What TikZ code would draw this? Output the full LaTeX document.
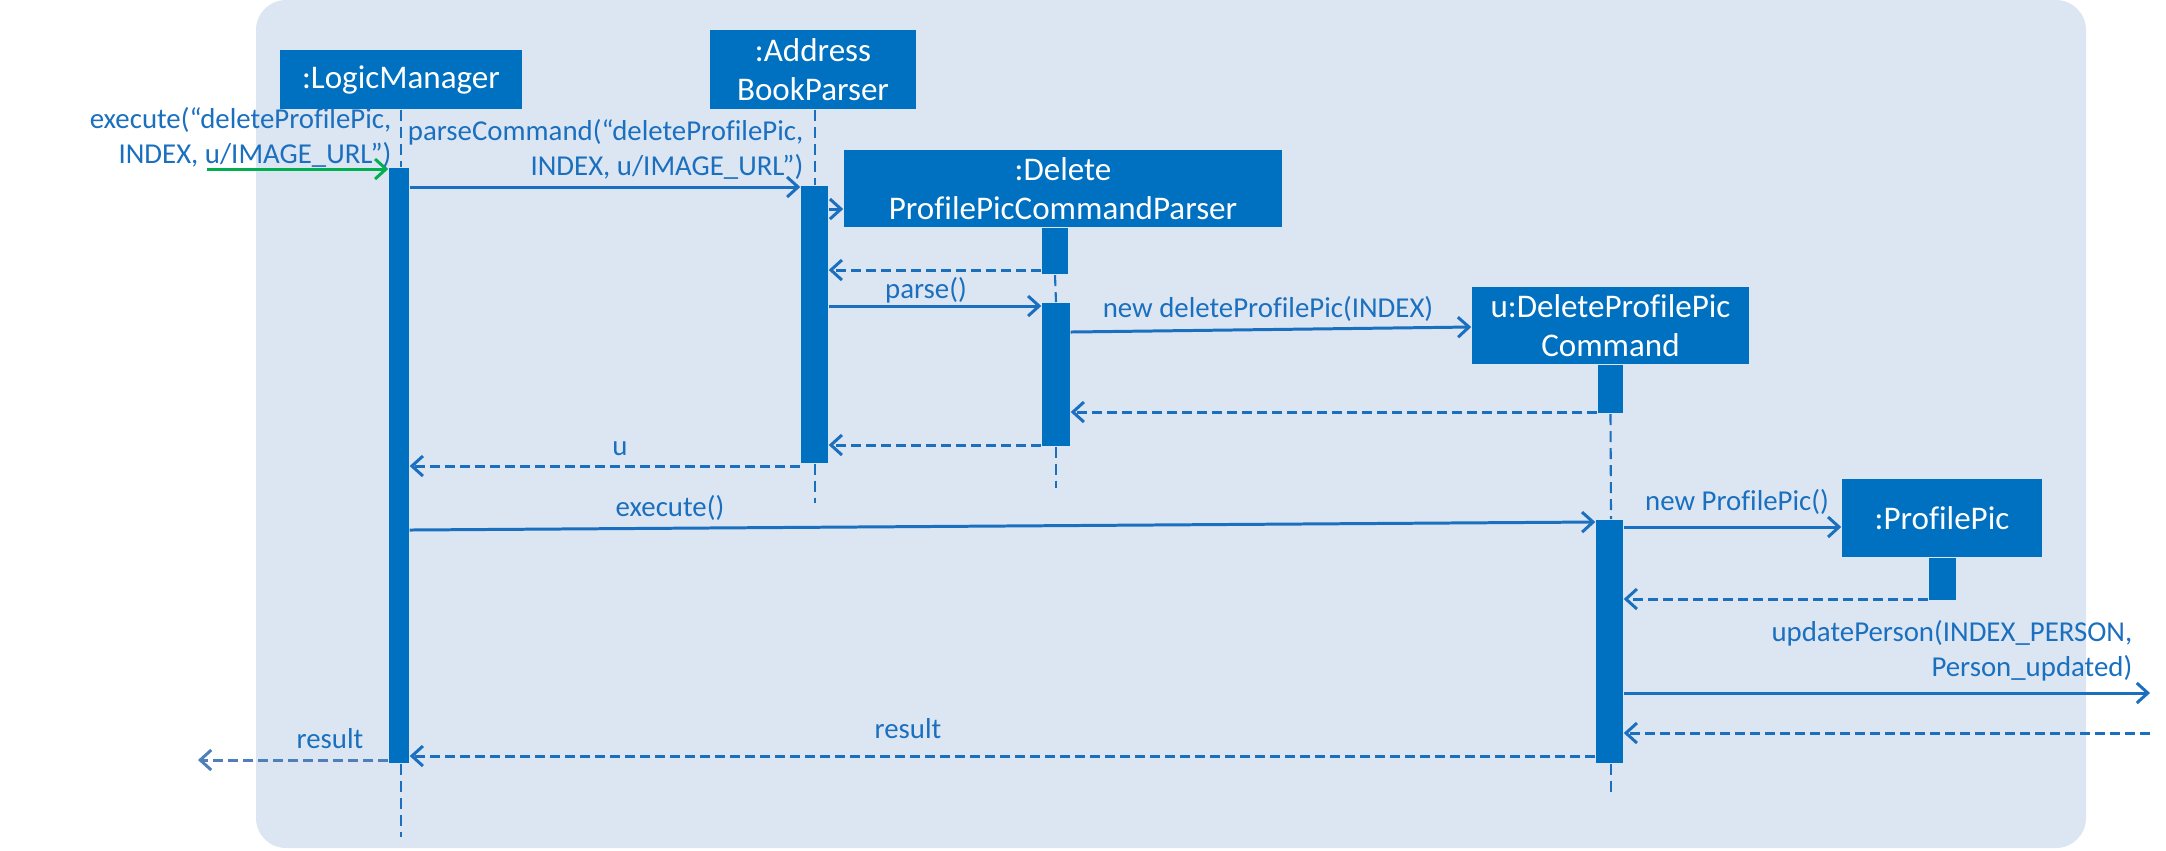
\documentclass[tikz,border=0pt]{standalone}
\usepackage{fontspec}
\setmainfont{Carlito}[Ligatures=NoCommon]
\usetikzlibrary{positioning,arrows.meta}
\definecolor{boxblue}{HTML}{0070C0}
\definecolor{lineblue}{HTML}{1A6FBF}
\definecolor{panel}{HTML}{DCE6F2}
\definecolor{callgreen}{HTML}{00B050}
\definecolor{outblue}{HTML}{4F7FBB}

\begin{document}
\begin{tikzpicture}[x=0.01cm, y=-0.01cm,
  objnode/.style={rectangle, fill=boxblue, text=white, inner sep=0pt, align=center, font=\fontsize{9.4}{11.1}\selectfont},
  barnode/.style={rectangle, fill=boxblue, inner sep=0pt, minimum width=0.26cm},
  lifeline/.style={draw=lineblue, line width=0.6pt, dash pattern=on 0.11cm off 0.06cm},
  msg/.style={draw=lineblue, line width=0.85pt, -{Straight Barb[length=0.11cm, width=0.2cm]}},
  ret/.style={msg, dash pattern=on 0.1cm off 0.05cm},
  msglabel/.style={text=lineblue, inner sep=0pt, font=\fontsize{8.2}{9.96}\selectfont}]

        \useasboundingbox (0,0) rectangle (2166,850);
        \fill[panel, rounded corners=0.3cm] (256,0) rectangle (2086,848);

        % objects
        \node[objnode, minimum width=2.42cm, minimum height=0.59cm] (lm) at (401,79.5) {:LogicManager};
        \node[objnode, minimum width=2.06cm, minimum height=0.79cm] (abp) at (813,69.5) {:Address\\BookParser};
        \node[objnode, minimum width=4.38cm, minimum height=0.77cm] (dp) at (1063,188.5) {:Delete\\ProfilePicCommandParser};
        \node[objnode, minimum width=2.77cm, minimum height=0.77cm] (cmd) at (1610.5,325.5) {u:DeleteProfilePic\\Command};
        \node[objnode, minimum width=2.00cm, minimum height=0.78cm] (pp) at (1942,518) {:ProfilePic};

        % activation bars
        \node[barnode, minimum width=0.2cm, minimum height=5.95cm, anchor=north] (lmbar) at (399,167) {};
        \node[barnode, minimum width=0.27cm, minimum height=2.77cm, anchor=north] (abpbar) at (814.5,185) {};
        \node[barnode, minimum height=0.46cm] (dpcreate) [below=0pt of dp, xshift=-0.08cm] {};
        \node[barnode, minimum width=0.28cm, minimum height=1.43cm, anchor=north] (dpbar) at (1056,302) {};
        \node[barnode, minimum width=0.25cm, minimum height=0.48cm] (cmdcreate) [below=0pt of cmd] {};
        \node[barnode, minimum width=0.27cm, minimum height=2.43cm, anchor=north] (cmdbar) at (1609.5,519) {};
        \node[barnode, minimum width=0.27cm, minimum height=0.42cm] (ppcreate) [below=0pt of pp] {};

        % lifelines
        \coordinate (lmend) at (401,837);
        \coordinate (abpend) at (815,503);
        \coordinate (dpend) at (1056,488);
        \coordinate (cmdend) at (1611,792);
        \draw[lifeline] (lm.south) -- (lm.south |- lmbar.north);
        \draw[lifeline] (lm.south |- lmbar.south) -- (lmend);
        \draw[lifeline] (abpend |- abp.south) -- (abpend |- abpbar.north);
        \draw[lifeline] (abpend |- abpbar.south) -- (abpend);
        \draw[lifeline] (dpcreate.south) -- (dpbar.north);
        \draw[lifeline] (dpbar.south) -- (dpend);
        \draw[lifeline] (cmdcreate.south) -- (cmdend |- cmdbar.north);
        \draw[lifeline] (cmdend |- cmdbar.south) -- (cmdend);

        % incoming call
        \coordinate (callin) at (207,169);
        \draw[msg, draw=callgreen] (callin) -- (lmbar.west |- callin);
        \node[msglabel, align=right, anchor=east] (calllbl) at (392,137) {execute(“deleteProfilePic,\\INDEX, u/IMAGE\_URL”)};

        % parsing
        \draw[msg] (lmbar.east |- 0,187) -- (abpbar.west |- 0,187);
        \node[msglabel, align=right, anchor=east] (parselbl) at (804,149) {parseCommand(“deleteProfilePic,\\INDEX, u/IMAGE\_URL”)};
        \draw[msg] (abpbar.east |- 0,209) -- (dp.west |- 0,209);
        \draw[ret] (dpcreate.west |- 0,270) -- (abpbar.east |- 0,270);
        \draw[msg] (abpbar.east |- 0,306) -- (dpbar.west |- 0,306);
        \node[msglabel] (parse) at (926,290) {parse()};
        \draw[msg] (dpbar.east |- 0,332) -- (cmd.west |- 0,327);
        \node[msglabel] (newcmd) at (1268,309) {new deleteProfilePic(INDEX)};
        \draw[ret] (cmdcreate.west |- 0,412) -- (dpbar.east |- 0,412);
        \draw[ret] (dpbar.west |- 0,445) -- (abpbar.east |- 0,445);
        \draw[ret] (abpbar.west |- 0,466) -- (lmbar.east |- 0,466);
        \node[msglabel] (ulbl) at (620,449) {u};

        % executing
        \draw[msg] (lmbar.east |- 0,530) -- (cmdbar.west |- 0,522);
        \node[msglabel] (exec) at (670,508) {execute()};
        \draw[msg] (cmdbar.east |- 0,527) -- (pp.west |- 0,527);
        \node[msglabel] (newpp) at (1737,502) {new ProfilePic()};
        \draw[ret] (ppcreate.west |- 0,599) -- (cmdbar.east |- 0,599);
        \coordinate (updout) at (2150,693);
        \coordinate (updin) at (2150,733);
        \draw[msg] (cmdbar.east |- updout) -- (updout);
        \node[msglabel, align=right, anchor=east] (updlbl) at (2133,650.5) {updatePerson(INDEX\_PERSON,\\Person\_updated)};
        \draw[ret] (updin) -- (cmdbar.east |- updin);
        \draw[ret] (cmdbar.west |- 0,756) -- (lmbar.east |- 0,756);
        \node[msglabel] (reslbl) at (908,729) {result};
        \coordinate (resout) at (198,760);
        \draw[ret, draw=outblue] (lmbar.west |- resout) -- (resout);
        \node[msglabel] (outlbl) at (330,739) {result};

\end{tikzpicture}
\end{document}
